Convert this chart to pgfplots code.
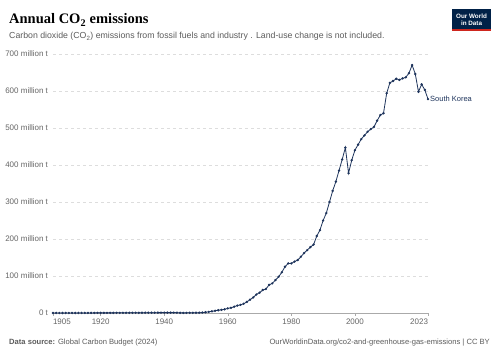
\documentclass[border=0pt]{standalone}
\usepackage{pgfplots}
\pgfplotsset{compat=1.18}
\usepackage{fontspec}
\setmainfont{Liberation Sans}
\newfontfamily\titlefont{Liberation Serif}
\definecolor{owidline}{RGB}{30,52,92}
\definecolor{owidnavy}{RGB}{0,33,71}
\definecolor{owidred}{RGB}{206,38,30}
\definecolor{txtgray}{RGB}{92,92,92}
\definecolor{tickgray}{RGB}{102,102,102}
\definecolor{gridgray}{RGB}{221,221,221}
\definecolor{axisgray}{RGB}{170,170,170}
\begin{document}
\begin{tikzpicture}
\path[use as bounding box,fill=white] (0pt,0pt) rectangle (500pt,353pt);
% title
\node[anchor=base west,inner sep=0] at (9pt,329pt) {\titlefont\bfseries\fontsize{14.5}{16}\selectfont Annual CO\textsubscript{2} emissions};
\node[anchor=base west,inner sep=0,text=txtgray] at (9pt,314pt) {\fontsize{8.75}{10}\selectfont Carbon dioxide (CO\textsubscript{2}) emissions from fossil fuels and industry . Land-use change is not included.};
% logo
\fill[owidnavy] (452pt,322pt) rectangle (491pt,344pt);
\fill[owidred] (452pt,322pt) rectangle (491pt,323.5pt);
\node[text=white,align=center,font=\bfseries\fontsize{6.3}{6.6}\selectfont,inner sep=0] at (471.5pt,333.5pt) {Our World\\in Data};
% footer
\node[anchor=base west,inner sep=0,text=txtgray] at (9pt,9pt) {\fontsize{7.6}{9}\selectfont\textbf{Data source:} Global Carbon Budget (2024)};
\node[anchor=base east,inner sep=0,text=txtgray] at (490pt,9pt) {\fontsize{7.6}{9}\selectfont OurWorldinData.org/co2-and-greenhouse-gas-emissions | CC BY};
\begin{axis}[
  at={(53pt,40pt)}, anchor=south west,
  scale only axis, width=375pt, height=259pt,
  xmin=1905, xmax=2023, ymin=0, ymax=700,
  axis lines*=left,
  x axis line style={draw=axisgray},
  y axis line style={draw=none},
  xtick={1905,1920,1940,1960,1980,2000,2023},
  xticklabels={\rlap{1905},1920,1940,1960,1980,2000,\llap{2023}},
  ytick={0,100,200,300,400,500,600,700},
  yticklabels={0 t,100 million t,200 million t,300 million t,400 million t,500 million t,600 million t,700 million t},
  ymajorgrids,
  grid style={gridgray,dashed,line width=0.5pt},
  tick style={axisgray,line width=0.5pt},
  xtick style={draw=axisgray},
  major tick length=3pt,
  xtick pos=bottom, ytick style={draw=none},
  tick align=outside,
  ticklabel style={text=tickgray,font=\fontsize{8}{9}\selectfont},
  xticklabel style={yshift=1pt},
  yticklabel style={xshift=1.5pt},
  /pgf/number format/assume math mode=true,
  clip=false,
]
\addplot[owidline,line width=0.8pt,mark=*,mark size=0.75pt] table {
x y
1905 0.05
1906 0.05
1907 0.06
1908 0.07
1909 0.08
1910 0.10
1911 0.12
1912 0.14
1913 0.16
1914 0.18
1915 0.20
1916 0.22
1917 0.25
1918 0.28
1919 0.30
1920 0.32
1921 0.34
1922 0.36
1923 0.38
1924 0.40
1925 0.42
1926 0.45
1927 0.48
1928 0.50
1929 0.55
1930 0.60
1931 0.60
1932 0.65
1933 0.70
1934 0.75
1935 0.80
1936 0.85
1937 0.90
1938 0.95
1939 1.0
1940 1.0
1941 1.0
1942 1.0
1943 1.0
1944 0.9
1945 0.5
1946 0.3
1947 0.4
1948 0.5
1949 0.6
1950 0.8
1951 0.7
1952 1.2
1953 2.0
1954 3.0
1955 4.5
1956 6.0
1957 7.5
1958 8.5
1959 10.0
1960 12.5
1961 14
1962 17
1963 20
1964 22
1965 25
1966 30
1967 36
1968 42
1969 50
1970 55
1971 62
1972 65
1973 76
1974 80
1975 89
1976 98
1977 110
1978 125
1979 134
1980 134
1981 139
1982 143
1983 152
1984 162
1985 170
1986 178
1987 185
1988 208
1989 224
1990 250
1991 270
1992 300
1993 330
1994 355
1995 385
1996 415
1997 447
1998 378
1999 413
2000 440
2001 455
2002 470
2003 480
2004 490
2005 497
2006 503
2007 520
2008 535
2009 540
2010 594
2011 622
2012 627
2013 633
2014 630
2015 634
2016 637
2017 648
2018 670
2019 646
2020 598
2021 618
2022 603
2023 578
};
\node[anchor=west,text=owidline,font=\fontsize{7.5}{9}\selectfont,inner sep=0,xshift=2pt] at (axis cs:2023,578) {South Korea};
\end{axis}
\end{tikzpicture}
\end{document}
